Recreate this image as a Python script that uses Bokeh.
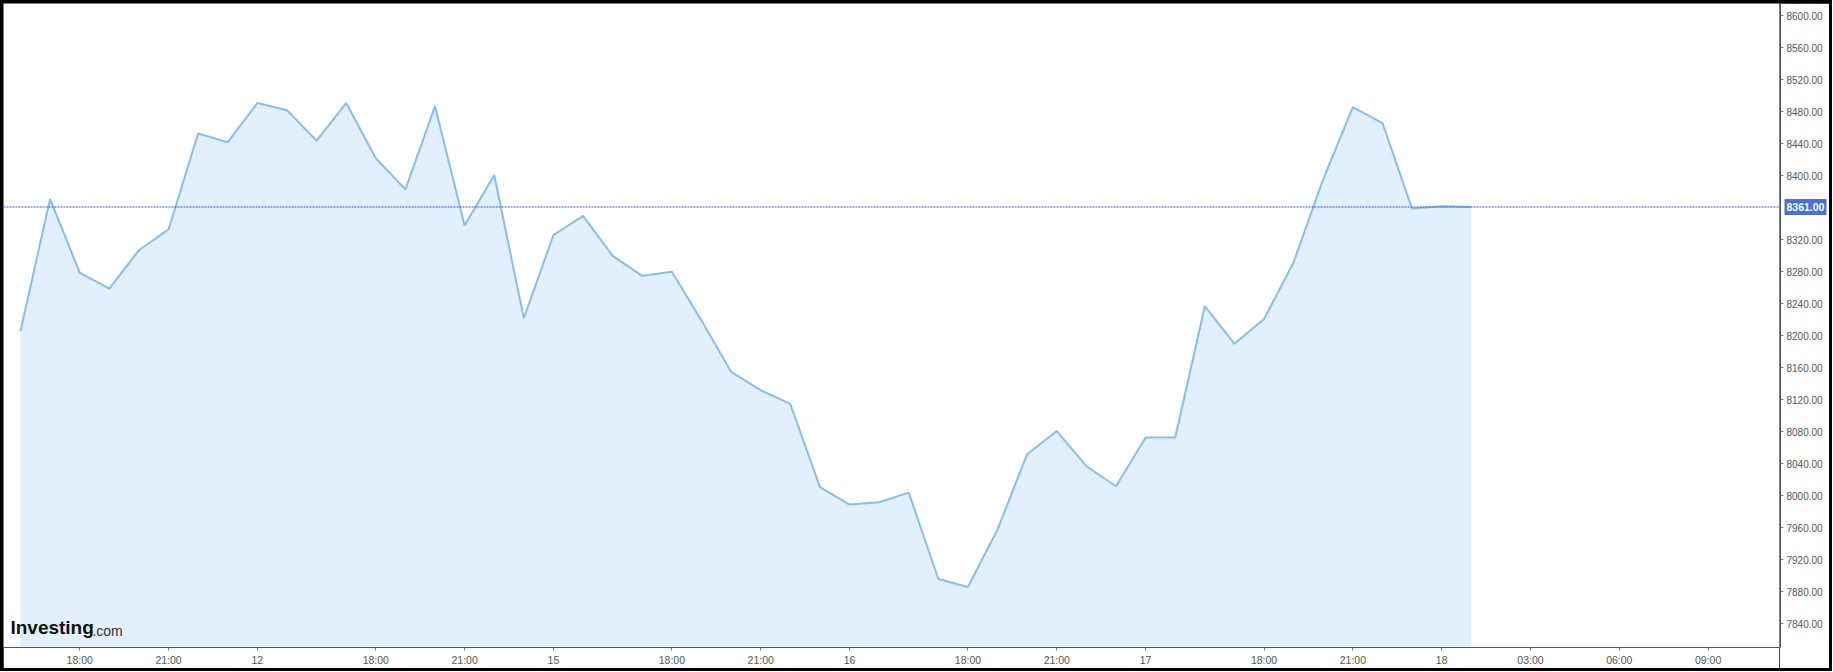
from bokeh.plotting import figure
from bokeh.models import (Range1d, LinearAxis, FixedTicker, NumeralTickFormatter,
                          Span, Label)
from bokeh.layouts import row
from bokeh.embed import file_html
from bokeh.resources import INLINE

# ---- data ----
prices = [8206, 8371, 8279, 8259, 8307, 8333, 8453, 8442, 8491, 8482,
          8444, 8491, 8422, 8383, 8487, 8338, 8401, 8222, 8326, 8350,
          8300, 8275, 8280, 8219, 8155, 8132, 8115, 8011, 7989, 7992,
          8004, 7896, 7886, 7958, 8052, 8081, 8037, 8012, 8073, 8073,
          8237, 8190, 8221, 8292, 8396, 8486, 8466, 8359, 8362, 8361]
bar_index = list(range(len(prices)))

x_tick_labels = ["18:00", "21:00", "12", "18:00", "21:00", "15", "18:00", "21:00",
                 "16", "18:00", "21:00", "17", "18:00", "21:00", "18", "03:00",
                 "06:00", "09:00"]
x_tick_pos = [2, 5, 8, 12, 15, 18, 22, 25, 28, 32, 35, 38, 42, 45, 48, 51, 54, 57]
y_ticks = [7840, 7880, 7920, 7960, 8000, 8040, 8080, 8120, 8160, 8200, 8240,
           8280, 8320, 8400, 8440, 8480, 8520, 8560, 8600]
last_price = 8361

# ---- shared scales ----
X0, X1 = -0.574, 59.41
Y0, Y1 = 7810.4, 8615.4
y_rng = Range1d(Y0, Y1)
FRAME_H = 644
AXIS_GREY = "#555555"
TICK_GREY = "#777777"
DASH_BLUE = "#2f5be6"

# ---- main price panel ----
p = figure(frame_width=1776, frame_height=FRAME_H, output_backend="svg",
           toolbar_location=None, x_range=Range1d(X0, X1), y_range=y_rng,
           x_axis_location=None, y_axis_location=None,
           min_border_left=0, min_border_top=0, min_border_right=0,
           min_border_bottom=21)
p.outline_line_color = None
p.grid.visible = False
p.background_fill_color = "white"
p.border_fill_color = "white"

p.varea(x=bar_index, y1=[Y0 - 50] * len(prices), y2=prices, fill_color="#e1f0fa")
p.line(x=bar_index, y=prices, line_color="#88bdef", line_width=2)
p.add_layout(Span(location=last_price, dimension="width", line_color=DASH_BLUE,
                  line_width=1, line_dash="2 1"))

xaxis = LinearAxis(ticker=FixedTicker(ticks=x_tick_pos),
                   major_label_overrides={pos: lab for pos, lab in zip(x_tick_pos, x_tick_labels)})
xaxis.axis_line_color = AXIS_GREY
xaxis.major_tick_line_color = TICK_GREY
xaxis.major_tick_out = 3
xaxis.major_tick_in = 0
xaxis.minor_tick_line_color = None
xaxis.major_label_standoff = 3
xaxis.major_label_text_font = "Liberation Sans"
xaxis.major_label_text_font_size = "10.5px"
xaxis.major_label_text_color = AXIS_GREY
p.add_layout(xaxis, "below")

p.add_layout(Label(x=-0.34, y=7835.4, text="Investing", text_baseline="middle",
                   text_align="left",
                   text_font="Liberation Sans", text_font_size="19px",
                   text_font_style="bold", text_color="#111111"))
p.add_layout(Label(x=-0.34, y=7835.4, text=".com", text_baseline="middle",
                   text_align="left", x_offset=82, y_offset=-3,
                   text_font="Liberation Sans", text_font_size="14px",
                   text_color="#333333"))

# ---- price scale (right axis) ----
s = figure(frame_width=1, frame_height=FRAME_H, output_backend="svg",
           toolbar_location=None, x_range=Range1d(0, 1), y_range=y_rng,
           x_axis_location=None, y_axis_location=None,
           min_border_left=0, min_border_top=0, min_border_right=49,
           min_border_bottom=21)
s.outline_line_color = None
s.grid.visible = False
s.background_fill_color = "white"
s.border_fill_color = "white"
s.add_layout(Span(location=last_price, dimension="width", line_color=DASH_BLUE,
                  line_width=1, line_dash="2 1"))

yaxis = LinearAxis(ticker=FixedTicker(ticks=y_ticks),
                   formatter=NumeralTickFormatter(format="0.00"))
yaxis.axis_line_color = AXIS_GREY
yaxis.major_tick_line_color = TICK_GREY
yaxis.major_tick_out = 3
yaxis.major_tick_in = 0
yaxis.minor_tick_line_color = None
yaxis.major_label_standoff = 3
yaxis.major_label_text_font = "Liberation Sans"
yaxis.major_label_text_font_size = "10px"
yaxis.major_label_text_color = AXIS_GREY
s.add_layout(yaxis, "right")

# current-price tag: kept in a side panel so it is drawn over the price scale
price_tag = Label(x=5, x_units="screen", y=last_price, text=f"{last_price:.2f}",
                  text_baseline="middle", text_align="left",
                  text_font="Liberation Sans", text_font_size="10.5px",
                  text_font_style="bold", text_color="white",
                  background_fill_color="#4a6fe0", padding=(2, 4))
s.add_layout(price_tag, "below")

layout = row(p, s, styles={"background-color": "black", "padding": "3px"})

open("out.html", "w").write(file_html(layout, INLINE))
